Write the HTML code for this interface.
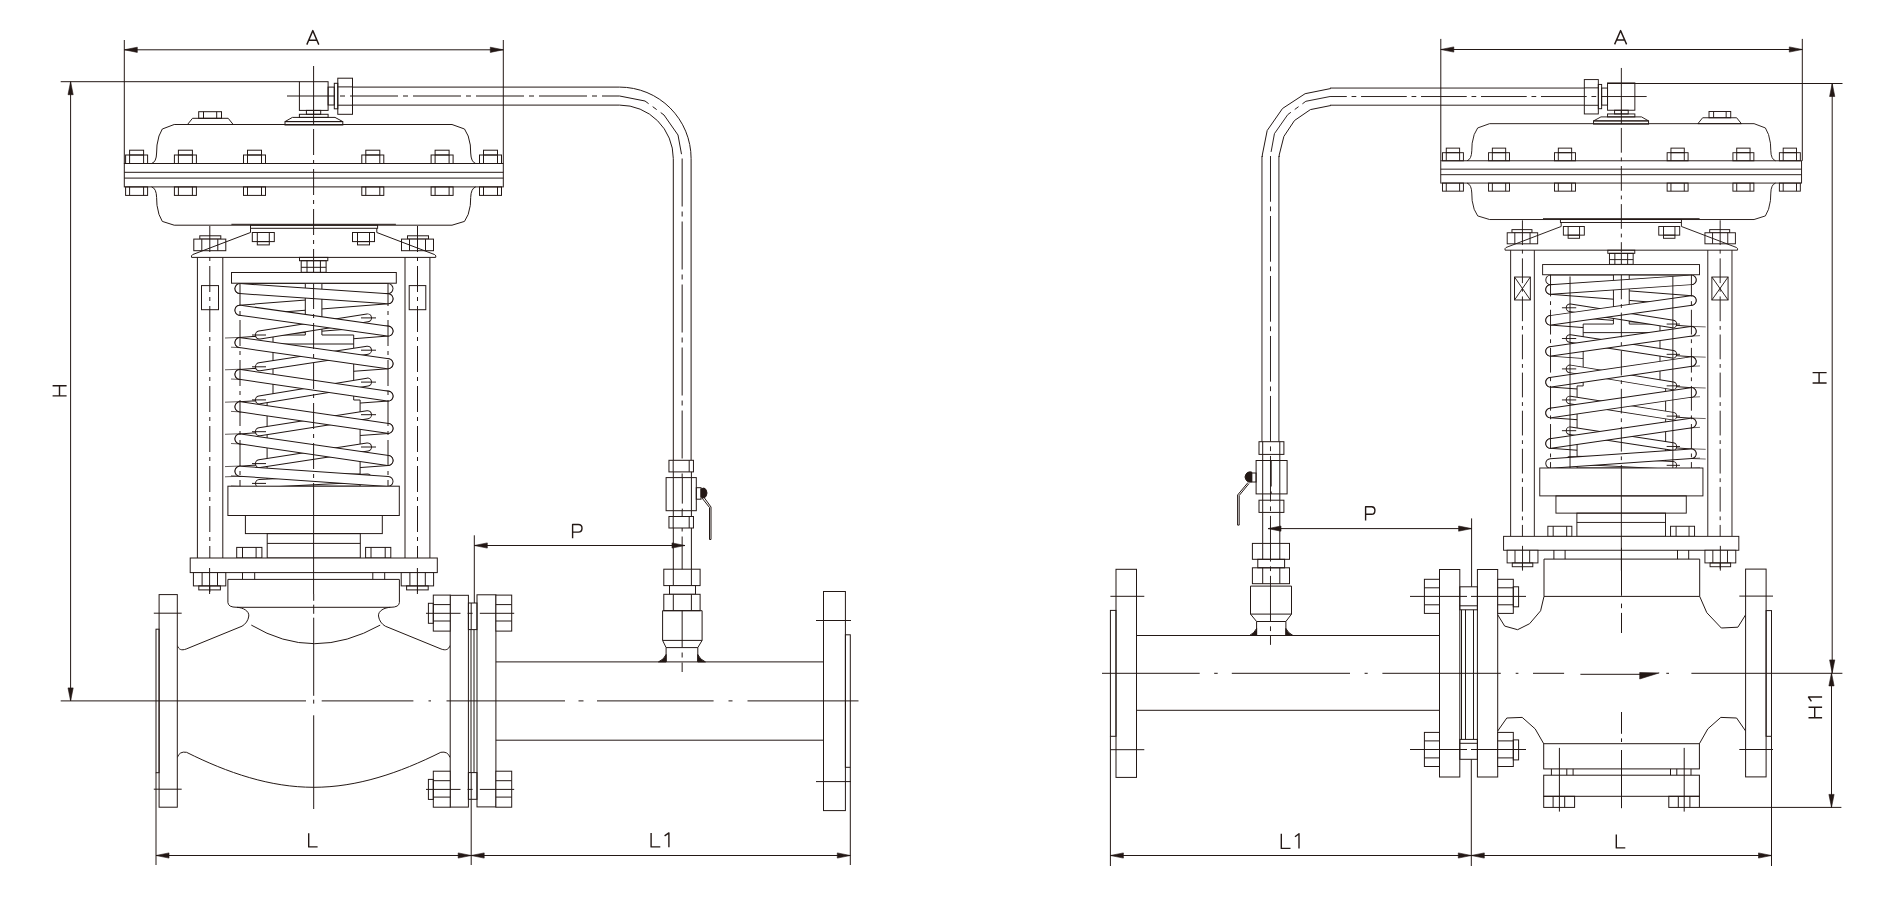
<!DOCTYPE html>
<html><head><meta charset="utf-8"><style>
html,body{margin:0;padding:0;background:#fff;}
svg{display:block;}
svg line, svg path, svg rect, svg polyline{stroke:#231815;stroke-width:1.0;fill:none;}
svg .ar{fill:#231815;stroke:#231815;stroke-width:0.6;}
svg .fl{fill:#231815;}
svg .thin{stroke-width:0.7;}
svg .tx{stroke-width:1.4;stroke-linejoin:round;}
svg .ch{stroke-dasharray:117 13 5 13;}
svg .cs{stroke-dasharray:26 5 4 5;}
svg .ct{stroke-dasharray:48 5 5 5;}
svg text{font-family:"Liberation Sans",sans-serif;fill:#231815;stroke:none;}
</style></head><body>
<svg width="1878" height="903" viewBox="0 0 1878 903">
<rect x="0" y="0" width="1878" height="903" style="fill:#fff;stroke:none"/>
<rect x="299.4" y="81.7" width="28.7" height="28.7"/>
<rect x="328.1" y="87.1" width="6.2" height="17.9"/>
<rect x="334.3" y="83.3" width="3.5" height="25.5"/>
<rect x="337.8" y="78.2" width="14.7" height="36.1"/>
<line x1="337.8" y1="86.9" x2="352.5" y2="86.9"/>
<line x1="337.8" y1="105.2" x2="352.5" y2="105.2"/>
<rect x="306.4" y="110.4" width="14.3" height="3.9"/>
<line x1="313.6" y1="110.4" x2="313.6" y2="114.3"/>
<rect x="299.4" y="114.3" width="28.7" height="3.1"/>
<path d="M292.4,117.4 L335,117.4 L342.8,121.6 L285,121.6 Z"/>
<rect x="285" y="121.6" width="57.8" height="3.4"/>
<line x1="352.5" y1="87.1" x2="619.6" y2="87.1"/>
<line x1="352.5" y1="105.1" x2="619.6" y2="105.1"/>
<path d="M619.6,87.1 A71.5,71.4 0 0 1 691.1,158.5"/>
<path d="M619.6,105.1 A53.7,53.4 0 0 1 673.3,158.5"/>
<path d="M287,96 L619.6,96 L645,101 L664,115 L678,135 L682.3,158.5" class="ct"/>
<line x1="673.3" y1="158.5" x2="673.3" y2="460.3"/>
<line x1="691.1" y1="158.5" x2="691.1" y2="460.3"/>
<line x1="682.15" y1="158.5" x2="682.15" y2="672" class="ct"/>
<rect x="668.95" y="460.3" width="24.5" height="11.6" style="fill:#fff"/>
<line x1="673.2" y1="460.3" x2="673.2" y2="471.9"/>
<line x1="689.2" y1="460.3" x2="689.2" y2="471.9"/>
<line x1="673.3" y1="471.9" x2="673.3" y2="477.6"/>
<line x1="691.4" y1="471.9" x2="691.4" y2="477.6"/>
<rect x="666.1" y="477.6" width="30.2" height="33.1" style="fill:#fff"/>
<line x1="673.3" y1="477.6" x2="673.3" y2="510.7"/>
<line x1="691.4" y1="477.6" x2="691.4" y2="510.7"/>
<line x1="682.3" y1="477.6" x2="682.3" y2="510.7" class="cs"/>
<rect x="696.3" y="487.7" width="4.7" height="11.5"/>
<path d="M701,489 Q706,486 707,493 Q706,500 701,497 Z" class="fl"/>
<path d="M703,496 L711,507 L711,539.5 L709.5,539.5 L709.5,507.5 L702,498"/>
<line x1="673.3" y1="510.7" x2="673.3" y2="516.5"/>
<line x1="691.4" y1="510.7" x2="691.4" y2="516.5"/>
<rect x="668.95" y="516.5" width="24.5" height="11.5" style="fill:#fff"/>
<line x1="673.2" y1="516.5" x2="673.2" y2="528"/>
<line x1="689.2" y1="516.5" x2="689.2" y2="528"/>
<line x1="673.3" y1="528" x2="673.3" y2="569.2"/>
<line x1="691.4" y1="528" x2="691.4" y2="569.2"/>
<rect x="663.8" y="569.2" width="36.3" height="16.4" style="fill:#fff"/>
<line x1="673.3" y1="569.2" x2="673.3" y2="585.6"/>
<line x1="691.4" y1="569.2" x2="691.4" y2="585.6"/>
<rect x="669.5" y="585.6" width="26" height="8.7" style="fill:#fff"/>
<rect x="663.8" y="594.3" width="36.3" height="16.4" style="fill:#fff"/>
<line x1="673.3" y1="594.3" x2="673.3" y2="610.7"/>
<line x1="691.4" y1="594.3" x2="691.4" y2="610.7"/>
<path d="M662.6,610.7 L702.1,610.7 L702.1,640.4 L697.8,647.6 L666.1,647.6 L662.6,640.4 Z"/>
<line x1="662.6" y1="640.4" x2="702.1" y2="640.4"/>
<line x1="666.1" y1="647.6" x2="666.1" y2="661.9"/>
<line x1="697.8" y1="647.6" x2="697.8" y2="661.9"/>
<path d="M658.5,661.9 Q664,659.5 666.1,654.5 L666.1,661.9 Z" class="fl"/>
<path d="M705.4,661.9 Q699.9,659.5 697.8,654.5 L697.8,661.9 Z" class="fl"/>
<path d="M187.5,124.5 L192.5,118.3 L228.2,118.3 L233.2,124.5 Z"/>
<rect x="198.7" y="111.7" width="22.8" height="6.6"/>
<line x1="203.5" y1="111.7" x2="203.5" y2="118.3"/>
<line x1="216.7" y1="111.7" x2="216.7" y2="118.3"/>
<path d="M151.6,163.5 Q156.4,162 156.6,153 L157,145 Q158.3,135 162.3,129 L174.2,124.5 L452,124.5 L464.5,129 Q469,135 470.3,145 L470.7,153 Q471,162 475.7,163.5"/>
<path d="M151.6,186.9 Q156.4,188.4 156.6,197.4 L157,205.4 Q158.3,215.4 162.3,221.4 L174.2,225.2 L452,225.2 L464.5,221.4 Q469,215.4 470.3,205.4 L470.7,197.4 Q471,188.4 475.7,186.9"/>
<line x1="231.4" y1="224.3" x2="395.9" y2="224.3"/>
<rect x="124.3" y="163.5" width="379" height="23.4"/>
<line x1="124.3" y1="172.3" x2="503.3" y2="172.3"/>
<line x1="124.3" y1="178.1" x2="503.3" y2="178.1"/>
<rect x="129.6" y="150.2" width="14" height="4.8"/>
<rect x="125.6" y="155" width="22" height="8.5"/>
<line x1="129.6" y1="155" x2="129.6" y2="163.5"/>
<line x1="143.6" y1="155" x2="143.6" y2="163.5"/>
<rect x="125.6" y="186.9" width="22" height="8.5"/>
<line x1="129.6" y1="186.9" x2="129.6" y2="195.4"/>
<line x1="143.6" y1="186.9" x2="143.6" y2="195.4"/>
<rect x="178.4" y="150.2" width="14" height="4.8"/>
<rect x="174.4" y="155" width="22" height="8.5"/>
<line x1="178.4" y1="155" x2="178.4" y2="163.5"/>
<line x1="192.4" y1="155" x2="192.4" y2="163.5"/>
<rect x="174.4" y="186.9" width="22" height="8.5"/>
<line x1="178.4" y1="186.9" x2="178.4" y2="195.4"/>
<line x1="192.4" y1="186.9" x2="192.4" y2="195.4"/>
<rect x="247.5" y="150.2" width="14" height="4.8"/>
<rect x="243.5" y="155" width="22" height="8.5"/>
<line x1="247.5" y1="155" x2="247.5" y2="163.5"/>
<line x1="261.5" y1="155" x2="261.5" y2="163.5"/>
<rect x="243.5" y="186.9" width="22" height="8.5"/>
<line x1="247.5" y1="186.9" x2="247.5" y2="195.4"/>
<line x1="261.5" y1="186.9" x2="261.5" y2="195.4"/>
<rect x="365.8" y="150.2" width="14" height="4.8"/>
<rect x="361.8" y="155" width="22" height="8.5"/>
<line x1="365.8" y1="155" x2="365.8" y2="163.5"/>
<line x1="379.8" y1="155" x2="379.8" y2="163.5"/>
<rect x="361.8" y="186.9" width="22" height="8.5"/>
<line x1="365.8" y1="186.9" x2="365.8" y2="195.4"/>
<line x1="379.8" y1="186.9" x2="379.8" y2="195.4"/>
<rect x="435.1" y="150.2" width="14" height="4.8"/>
<rect x="431.1" y="155" width="22" height="8.5"/>
<line x1="435.1" y1="155" x2="435.1" y2="163.5"/>
<line x1="449.1" y1="155" x2="449.1" y2="163.5"/>
<rect x="431.1" y="186.9" width="22" height="8.5"/>
<line x1="435.1" y1="186.9" x2="435.1" y2="195.4"/>
<line x1="449.1" y1="186.9" x2="449.1" y2="195.4"/>
<rect x="483.5" y="150.2" width="14" height="4.8"/>
<rect x="479.5" y="155" width="22" height="8.5"/>
<line x1="483.5" y1="155" x2="483.5" y2="163.5"/>
<line x1="497.5" y1="155" x2="497.5" y2="163.5"/>
<rect x="479.5" y="186.9" width="22" height="8.5"/>
<line x1="483.5" y1="186.9" x2="483.5" y2="195.4"/>
<line x1="497.5" y1="186.9" x2="497.5" y2="195.4"/>
<rect x="250.5" y="225.2" width="127.1" height="3.1"/>
<rect x="199.8" y="235.8" width="21" height="3.3" style="fill:#fff"/>
<rect x="193.8" y="239.1" width="32" height="11.6" style="fill:#fff"/>
<line x1="201.8" y1="239.1" x2="201.8" y2="250.7"/>
<line x1="217.8" y1="239.1" x2="217.8" y2="250.7"/>
<rect x="407.5" y="235.8" width="21" height="3.3" style="fill:#fff"/>
<rect x="401.5" y="239.1" width="32" height="11.6" style="fill:#fff"/>
<line x1="409.5" y1="239.1" x2="409.5" y2="250.7"/>
<line x1="425.5" y1="239.1" x2="425.5" y2="250.7"/>
<path d="M250.5,228.3 L250.5,232.5 L192.6,254.6 Q190.8,255.8 191.6,257.4 L435.7,257.4 Q436.5,255.8 434.7,254.6 L376.8,232.5 L376.8,228.3"/>
<rect x="252.3" y="232.5" width="22" height="9.1" style="fill:#fff"/>
<line x1="257.3" y1="232.5" x2="257.3" y2="241.6"/>
<line x1="269.3" y1="232.5" x2="269.3" y2="241.6"/>
<rect x="257.3" y="241.6" width="12" height="3.3"/>
<rect x="352.5" y="232.5" width="22" height="9.1" style="fill:#fff"/>
<line x1="357.5" y1="232.5" x2="357.5" y2="241.6"/>
<line x1="369.5" y1="232.5" x2="369.5" y2="241.6"/>
<rect x="357.5" y="241.6" width="12" height="3.3"/>
<line x1="197.4" y1="257.4" x2="197.4" y2="558"/>
<line x1="222.8" y1="257.4" x2="222.8" y2="558"/>
<line x1="209.8" y1="226" x2="209.8" y2="592" class="cs"/>
<line x1="405" y1="257.4" x2="405" y2="558"/>
<line x1="429.9" y1="257.4" x2="429.9" y2="558"/>
<line x1="417.5" y1="226" x2="417.5" y2="592" class="cs"/>
<rect x="201.5" y="285.6" width="17" height="24.1"/>
<rect x="409.2" y="285.6" width="16.6" height="24.1"/>
<path d="M388,288.6 L240,288.6" style="stroke-width:11;stroke-linecap:round"/>
<path d="M388,288.6 L240,288.6" style="stroke:#fff;stroke-width:9;stroke-linecap:round"/>
<path d="M388,298.8 L240,310.2" style="stroke-width:11;stroke-linecap:round"/>
<path d="M388,298.8 L240,310.2" style="stroke:#fff;stroke-width:9;stroke-linecap:round"/>
<path d="M388,331.1 L240,342.6" style="stroke-width:11;stroke-linecap:round"/>
<path d="M388,331.1 L240,342.6" style="stroke:#fff;stroke-width:9;stroke-linecap:round"/>
<path d="M388,363.7 L240,374.4" style="stroke-width:11;stroke-linecap:round"/>
<path d="M388,363.7 L240,374.4" style="stroke:#fff;stroke-width:9;stroke-linecap:round"/>
<path d="M388,396.1 L240,406.8" style="stroke-width:11;stroke-linecap:round"/>
<path d="M388,396.1 L240,406.8" style="stroke:#fff;stroke-width:9;stroke-linecap:round"/>
<path d="M388,428.4 L240,438.9" style="stroke-width:11;stroke-linecap:round"/>
<path d="M388,428.4 L240,438.9" style="stroke:#fff;stroke-width:9;stroke-linecap:round"/>
<path d="M388,460.5 L240,471.2" style="stroke-width:11;stroke-linecap:round"/>
<path d="M388,460.5 L240,471.2" style="stroke:#fff;stroke-width:9;stroke-linecap:round"/>
<path d="M305.3,283.2 L305.3,335 L273,335 L273,400 L267.1,400 L267.1,486.2 L360.1,486.2 L360.1,400 L353.7,400 L353.7,335 L321.9,335 L321.9,283.2 Z" style="fill:#fff"/>
<line x1="273" y1="344" x2="353.7" y2="344"/>
<line x1="267.1" y1="474" x2="360.1" y2="474"/>
<path d="M259.5,335 L367.5,317.9" style="stroke-width:9;stroke-linecap:round"/>
<path d="M259.5,335 L367.5,317.9" style="stroke:#fff;stroke-width:7;stroke-linecap:round"/>
<path d="M259.5,366.8 L367.5,350.2" style="stroke-width:9;stroke-linecap:round"/>
<path d="M259.5,366.8 L367.5,350.2" style="stroke:#fff;stroke-width:7;stroke-linecap:round"/>
<path d="M259.5,399.9 L367.5,382.1" style="stroke-width:9;stroke-linecap:round"/>
<path d="M259.5,399.9 L367.5,382.1" style="stroke:#fff;stroke-width:7;stroke-linecap:round"/>
<path d="M259.5,431.7 L367.5,414.7" style="stroke-width:9;stroke-linecap:round"/>
<path d="M259.5,431.7 L367.5,414.7" style="stroke:#fff;stroke-width:7;stroke-linecap:round"/>
<path d="M259.5,463.6 L367.5,447" style="stroke-width:9;stroke-linecap:round"/>
<path d="M259.5,463.6 L367.5,447" style="stroke:#fff;stroke-width:7;stroke-linecap:round"/>
<path d="M259.5,483.4 L367.5,478" style="stroke-width:9;stroke-linecap:round"/>
<path d="M259.5,483.4 L367.5,478" style="stroke:#fff;stroke-width:7;stroke-linecap:round"/>
<line x1="252" y1="335" x2="266" y2="335"/>
<line x1="252" y1="366.8" x2="266" y2="366.8"/>
<line x1="252" y1="399.9" x2="266" y2="399.9"/>
<line x1="252" y1="431.7" x2="266" y2="431.7"/>
<line x1="252" y1="463.6" x2="266" y2="463.6"/>
<line x1="252" y1="483.4" x2="266" y2="483.4"/>
<line x1="361" y1="317.9" x2="376" y2="317.9"/>
<line x1="361" y1="350.2" x2="376" y2="350.2"/>
<line x1="361" y1="382.1" x2="376" y2="382.1"/>
<line x1="361" y1="414.7" x2="376" y2="414.7"/>
<line x1="361" y1="447" x2="376" y2="447"/>
<line x1="361" y1="478" x2="376" y2="478"/>
<path d="M225,338 L241,337.4" class="thin"/>
<path d="M231,347.2 L241,347.7" class="thin"/>
<path d="M225,369.8 L241,369.2" class="thin"/>
<path d="M231,379 L241,379.5" class="thin"/>
<path d="M225,402.2 L241,401.6" class="thin"/>
<path d="M231,411.4 L241,411.9" class="thin"/>
<path d="M225,434.3 L241,433.7" class="thin"/>
<path d="M231,443.5 L241,444" class="thin"/>
<path d="M225,466.6 L241,466" class="thin"/>
<path d="M231,475.8 L241,476.3" class="thin"/>
<path d="M225,476.8 L241,476.2" class="thin"/>
<path d="M231,486 L241,486.5" class="thin"/>
<path d="M240,288.6 L388,298.8" style="stroke-width:11;stroke-linecap:round"/>
<path d="M240,288.6 L388,298.8" style="stroke:#fff;stroke-width:9;stroke-linecap:round"/>
<path d="M240,310.2 L388,331.1" style="stroke-width:11;stroke-linecap:round"/>
<path d="M240,310.2 L388,331.1" style="stroke:#fff;stroke-width:9;stroke-linecap:round"/>
<path d="M240,342.6 L388,363.7" style="stroke-width:11;stroke-linecap:round"/>
<path d="M240,342.6 L388,363.7" style="stroke:#fff;stroke-width:9;stroke-linecap:round"/>
<path d="M240,374.4 L388,396.1" style="stroke-width:11;stroke-linecap:round"/>
<path d="M240,374.4 L388,396.1" style="stroke:#fff;stroke-width:9;stroke-linecap:round"/>
<path d="M240,406.8 L388,428.4" style="stroke-width:11;stroke-linecap:round"/>
<path d="M240,406.8 L388,428.4" style="stroke:#fff;stroke-width:9;stroke-linecap:round"/>
<path d="M240,438.9 L388,460.5" style="stroke-width:11;stroke-linecap:round"/>
<path d="M240,438.9 L388,460.5" style="stroke:#fff;stroke-width:9;stroke-linecap:round"/>
<path d="M240,471.2 L388,481.4" style="stroke-width:11;stroke-linecap:round"/>
<path d="M240,471.2 L388,481.4" style="stroke:#fff;stroke-width:9;stroke-linecap:round"/>
<line x1="240" y1="280" x2="240" y2="492" class="cs"/>
<line x1="388" y1="280" x2="388" y2="492" class="cs"/>
<line x1="313.6" y1="283" x2="313.6" y2="486" class="cs"/>
<rect x="299.5" y="257.4" width="28.3" height="3.3"/>
<rect x="301.2" y="260.7" width="24.9" height="11.6"/>
<line x1="307" y1="260.7" x2="307" y2="272.3"/>
<line x1="313.6" y1="260.7" x2="313.6" y2="272.3"/>
<line x1="320.4" y1="260.7" x2="320.4" y2="272.3"/>
<line x1="301.2" y1="267.3" x2="326.1" y2="267.3"/>
<rect x="231.5" y="272.5" width="164.8" height="10.7" style="fill:#fff"/>
<rect x="227.9" y="486.2" width="171.4" height="29.3" style="fill:#fff"/>
<rect x="245.4" y="515.5" width="136.9" height="18.1"/>
<rect x="267.2" y="533.6" width="93.1" height="24.4"/>
<line x1="267.2" y1="543.4" x2="360.3" y2="543.4"/>
<rect x="236.7" y="547.4" width="25.2" height="10.6"/>
<line x1="242.5" y1="547.4" x2="242.5" y2="558"/>
<line x1="256.1" y1="547.4" x2="256.1" y2="558"/>
<rect x="365.6" y="547.4" width="25.2" height="10.6"/>
<line x1="371" y1="547.4" x2="371" y2="558"/>
<line x1="385.2" y1="547.4" x2="385.2" y2="558"/>
<rect x="190.2" y="558" width="247.1" height="14.6" style="fill:#fff"/>
<line x1="227.9" y1="579.4" x2="399.3" y2="579.4"/>
<line x1="242.5" y1="572.6" x2="242.5" y2="579.4"/>
<line x1="254.7" y1="572.6" x2="254.7" y2="579.4"/>
<line x1="372.8" y1="572.6" x2="372.8" y2="579.4"/>
<line x1="384.7" y1="572.6" x2="384.7" y2="579.4"/>
<rect x="193.4" y="572.6" width="32.4" height="13.3" style="fill:#fff"/>
<line x1="202.1" y1="572.6" x2="202.1" y2="585.9"/>
<line x1="217.5" y1="572.6" x2="217.5" y2="585.9"/>
<rect x="198.8" y="585.9" width="21.6" height="4"/>
<line x1="209.6" y1="568" x2="209.6" y2="594"/>
<rect x="401.2" y="572.6" width="32.4" height="13.3" style="fill:#fff"/>
<line x1="409.9" y1="572.6" x2="409.9" y2="585.9"/>
<line x1="425.3" y1="572.6" x2="425.3" y2="585.9"/>
<rect x="406.6" y="585.9" width="21.6" height="4"/>
<line x1="417.4" y1="568" x2="417.4" y2="594"/>
<line x1="313.6" y1="66" x2="313.6" y2="125"/>
<line x1="313.6" y1="129" x2="313.6" y2="260" class="cs"/>
<line x1="313.6" y1="486" x2="313.6" y2="594"/>
<path d="M227.9,579.4 L227.9,602.5 Q228.2,607.3 236.7,607.3 L390.6,607.3 Q399.1,607.3 399.4,602.5 L399.4,579.4"/>
<path d="M236.7,607.3 C243,607.5 249.3,611 248.8,616 C248.3,620.5 245.5,624.2 242,626.2 L186.2,649 C181.5,650.8 178.6,649.5 177.3,645.5"/>
<path d="M390.6,607.3 C384.3,607.5 378,611 378.5,616 C379,620.5 381.8,624.2 385.3,626.2 L441.1,649 C445.8,650.8 448.7,649.5 450.1,645.5"/>
<path d="M251.3,625.1 Q313.7,662.3 380.2,625.1"/>
<path d="M177.3,757.5 Q179.5,751 186.5,752.3 C228,773 270,787.3 313.65,787.3 C357.3,787.3 399.3,773 440.8,752.3 Q447.8,751 450.1,757.5"/>
<rect x="159.1" y="594.6" width="18.2" height="212.6" style="fill:#fff"/>
<rect x="156" y="629.2" width="3.1" height="143.5"/>
<line x1="153.8" y1="613.2" x2="181.7" y2="613.2"/>
<line x1="153.8" y1="789.2" x2="181.7" y2="789.2"/>
<rect x="450.2" y="595.3" width="18.2" height="211.8" style="fill:#fff"/>
<rect x="477" y="594.8" width="18.9" height="212.1" style="fill:#fff"/>
<rect x="468.4" y="603" width="8.6" height="26.6"/>
<line x1="471.2" y1="603" x2="471.2" y2="629.6"/>
<rect x="468.4" y="772.6" width="8.6" height="26.7"/>
<line x1="471.2" y1="772.6" x2="471.2" y2="799.3"/>
<line x1="471" y1="629.6" x2="471" y2="772.6"/>
<line x1="474" y1="629.6" x2="474" y2="772.6"/>
<rect x="433.3" y="595.1" width="16.9" height="36" style="fill:#fff"/>
<line x1="433.3" y1="604.6" x2="450.2" y2="604.6"/>
<line x1="433.3" y1="621" x2="450.2" y2="621"/>
<rect x="428.4" y="603.3" width="4.9" height="20"/>
<rect x="495.9" y="595.1" width="15.8" height="36" style="fill:#fff"/>
<line x1="495.9" y1="604.6" x2="511.7" y2="604.6"/>
<line x1="495.9" y1="621" x2="511.7" y2="621"/>
<line x1="426" y1="613.3" x2="460.5" y2="613.3"/>
<line x1="467.6" y1="613.3" x2="472.6" y2="613.3"/>
<line x1="479.8" y1="613.3" x2="514.2" y2="613.3"/>
<rect x="433.3" y="771.2" width="16.9" height="36" style="fill:#fff"/>
<line x1="433.3" y1="780.7" x2="450.2" y2="780.7"/>
<line x1="433.3" y1="797.1" x2="450.2" y2="797.1"/>
<rect x="428.4" y="779.4" width="4.9" height="20"/>
<rect x="495.9" y="771.2" width="15.8" height="36" style="fill:#fff"/>
<line x1="495.9" y1="780.7" x2="511.7" y2="780.7"/>
<line x1="495.9" y1="797.1" x2="511.7" y2="797.1"/>
<line x1="426" y1="789.4" x2="460.5" y2="789.4"/>
<line x1="467.6" y1="789.4" x2="472.6" y2="789.4"/>
<line x1="479.8" y1="789.4" x2="514.2" y2="789.4"/>
<line x1="495.9" y1="661.9" x2="823.5" y2="661.9"/>
<line x1="495.9" y1="740.2" x2="823.5" y2="740.2"/>
<rect x="823.5" y="591.5" width="21.9" height="219.1"/>
<rect x="845.4" y="634.8" width="4.9" height="132.5"/>
<line x1="816" y1="620.5" x2="851" y2="620.5"/>
<line x1="816" y1="781.6" x2="851" y2="781.6"/>
<line x1="60.7" y1="700.9" x2="306" y2="700.9"/>
<line x1="321.7" y1="700.9" x2="413.4" y2="700.9"/>
<line x1="428.5" y1="700.9" x2="431" y2="700.9"/>
<line x1="446.5" y1="700.9" x2="565" y2="700.9"/>
<line x1="578.5" y1="700.9" x2="583.5" y2="700.9"/>
<line x1="597" y1="700.9" x2="713.6" y2="700.9"/>
<line x1="728.5" y1="700.9" x2="732.5" y2="700.9"/>
<line x1="747.5" y1="700.9" x2="858.5" y2="700.9"/>
<line x1="313.7" y1="594" x2="313.7" y2="600.8"/>
<line x1="313.7" y1="604.7" x2="313.7" y2="613.8"/>
<line x1="313.7" y1="617.7" x2="313.7" y2="695.8"/>
<line x1="313.7" y1="699.7" x2="313.7" y2="703.6"/>
<line x1="313.7" y1="715.3" x2="313.7" y2="809"/>
<line x1="124.3" y1="40" x2="124.3" y2="163.5"/>
<line x1="503.3" y1="40" x2="503.3" y2="163.5"/>
<line x1="124.3" y1="49.8" x2="503.3" y2="49.8"/>
<polygon class="ar" points="124.3,49.8 137.3,47.2 137.3,52.4"/>
<polygon class="ar" points="503.3,49.8 490.3,47.2 490.3,52.4"/>
<line x1="60.7" y1="81.7" x2="299.4" y2="81.7"/>
<line x1="70.6" y1="81.7" x2="70.6" y2="700.9"/>
<polygon class="ar" points="70.6,81.7 68,94.7 73.2,94.7"/>
<polygon class="ar" points="70.6,700.9 68,687.9 73.2,687.9"/>
<line x1="156" y1="772.7" x2="156" y2="865"/>
<line x1="850.3" y1="767.3" x2="850.3" y2="865"/>
<line x1="471.2" y1="799.3" x2="471.2" y2="865"/>
<line x1="474.3" y1="535.3" x2="474.3" y2="603"/>
<line x1="156" y1="855.5" x2="850.3" y2="855.5"/>
<polygon class="ar" points="156,855.5 169,852.9 169,858.1"/>
<polygon class="ar" points="471.2,855.5 458.2,852.9 458.2,858.1"/>
<polygon class="ar" points="471.2,855.5 484.2,852.9 484.2,858.1"/>
<polygon class="ar" points="850.3,855.5 837.3,852.9 837.3,858.1"/>
<line x1="474.3" y1="545.5" x2="685" y2="545.5"/>
<polygon class="ar" points="474.3,545.5 487.3,542.9 487.3,548.1"/>
<polygon class="ar" points="685,545.5 672,542.9 672,548.1"/>
<g transform="translate(1621.3,107) scale(-0.952,0.952) translate(-313.65,-107)">
<rect x="299.4" y="81.7" width="28.7" height="28.7"/>
<rect x="328.1" y="87.1" width="6.2" height="17.9"/>
<rect x="334.3" y="83.3" width="3.5" height="25.5"/>
<rect x="337.8" y="78.2" width="14.7" height="36.1"/>
<line x1="337.8" y1="86.9" x2="352.5" y2="86.9"/>
<line x1="337.8" y1="105.2" x2="352.5" y2="105.2"/>
<rect x="306.4" y="110.4" width="14.3" height="3.9"/>
<line x1="313.6" y1="110.4" x2="313.6" y2="114.3"/>
<rect x="299.4" y="114.3" width="28.7" height="3.1"/>
<path d="M292.4,117.4 L335,117.4 L342.8,121.6 L285,121.6 Z"/>
<rect x="285" y="121.6" width="57.8" height="3.4"/>
<line x1="352.5" y1="87.1" x2="619.6" y2="87.1"/>
<line x1="352.5" y1="105.1" x2="619.6" y2="105.1"/>
<path d="M287,96 L619.6,96 L645,101 L664,115 L678,135 L682.3,158.5" class="ct"/>
<line x1="673.3" y1="158.5" x2="673.3" y2="458.6"/>
<line x1="691.1" y1="158.5" x2="691.1" y2="458.6"/>
<line x1="682.15" y1="158.5" x2="682.15" y2="672" class="ct"/>
<path d="M187.5,124.5 L192.5,118.3 L228.2,118.3 L233.2,124.5 Z"/>
<rect x="198.7" y="111.7" width="22.8" height="6.6"/>
<line x1="203.5" y1="111.7" x2="203.5" y2="118.3"/>
<line x1="216.7" y1="111.7" x2="216.7" y2="118.3"/>
<path d="M151.6,163.5 Q156.4,162 156.6,153 L157,145 Q158.3,135 162.3,129 L174.2,124.5 L452,124.5 L464.5,129 Q469,135 470.3,145 L470.7,153 Q471,162 475.7,163.5"/>
<path d="M151.6,186.9 Q156.4,188.4 156.6,197.4 L157,205.4 Q158.3,215.4 162.3,221.4 L174.2,225.2 L452,225.2 L464.5,221.4 Q469,215.4 470.3,205.4 L470.7,197.4 Q471,188.4 475.7,186.9"/>
<line x1="231.4" y1="224.3" x2="395.9" y2="224.3"/>
<rect x="124.3" y="163.5" width="379" height="23.4"/>
<line x1="124.3" y1="172.3" x2="503.3" y2="172.3"/>
<line x1="124.3" y1="178.1" x2="503.3" y2="178.1"/>
<rect x="129.6" y="150.2" width="14" height="4.8"/>
<rect x="125.6" y="155" width="22" height="8.5"/>
<line x1="129.6" y1="155" x2="129.6" y2="163.5"/>
<line x1="143.6" y1="155" x2="143.6" y2="163.5"/>
<rect x="125.6" y="186.9" width="22" height="8.5"/>
<line x1="129.6" y1="186.9" x2="129.6" y2="195.4"/>
<line x1="143.6" y1="186.9" x2="143.6" y2="195.4"/>
<rect x="178.4" y="150.2" width="14" height="4.8"/>
<rect x="174.4" y="155" width="22" height="8.5"/>
<line x1="178.4" y1="155" x2="178.4" y2="163.5"/>
<line x1="192.4" y1="155" x2="192.4" y2="163.5"/>
<rect x="174.4" y="186.9" width="22" height="8.5"/>
<line x1="178.4" y1="186.9" x2="178.4" y2="195.4"/>
<line x1="192.4" y1="186.9" x2="192.4" y2="195.4"/>
<rect x="247.5" y="150.2" width="14" height="4.8"/>
<rect x="243.5" y="155" width="22" height="8.5"/>
<line x1="247.5" y1="155" x2="247.5" y2="163.5"/>
<line x1="261.5" y1="155" x2="261.5" y2="163.5"/>
<rect x="243.5" y="186.9" width="22" height="8.5"/>
<line x1="247.5" y1="186.9" x2="247.5" y2="195.4"/>
<line x1="261.5" y1="186.9" x2="261.5" y2="195.4"/>
<rect x="365.8" y="150.2" width="14" height="4.8"/>
<rect x="361.8" y="155" width="22" height="8.5"/>
<line x1="365.8" y1="155" x2="365.8" y2="163.5"/>
<line x1="379.8" y1="155" x2="379.8" y2="163.5"/>
<rect x="361.8" y="186.9" width="22" height="8.5"/>
<line x1="365.8" y1="186.9" x2="365.8" y2="195.4"/>
<line x1="379.8" y1="186.9" x2="379.8" y2="195.4"/>
<rect x="435.1" y="150.2" width="14" height="4.8"/>
<rect x="431.1" y="155" width="22" height="8.5"/>
<line x1="435.1" y1="155" x2="435.1" y2="163.5"/>
<line x1="449.1" y1="155" x2="449.1" y2="163.5"/>
<rect x="431.1" y="186.9" width="22" height="8.5"/>
<line x1="435.1" y1="186.9" x2="435.1" y2="195.4"/>
<line x1="449.1" y1="186.9" x2="449.1" y2="195.4"/>
<rect x="483.5" y="150.2" width="14" height="4.8"/>
<rect x="479.5" y="155" width="22" height="8.5"/>
<line x1="483.5" y1="155" x2="483.5" y2="163.5"/>
<line x1="497.5" y1="155" x2="497.5" y2="163.5"/>
<rect x="479.5" y="186.9" width="22" height="8.5"/>
<line x1="483.5" y1="186.9" x2="483.5" y2="195.4"/>
<line x1="497.5" y1="186.9" x2="497.5" y2="195.4"/>
<rect x="250.5" y="225.2" width="127.1" height="3.1"/>
<rect x="199.8" y="235.8" width="21" height="3.3" style="fill:#fff"/>
<rect x="193.8" y="239.1" width="32" height="11.6" style="fill:#fff"/>
<line x1="201.8" y1="239.1" x2="201.8" y2="250.7"/>
<line x1="217.8" y1="239.1" x2="217.8" y2="250.7"/>
<rect x="407.5" y="235.8" width="21" height="3.3" style="fill:#fff"/>
<rect x="401.5" y="239.1" width="32" height="11.6" style="fill:#fff"/>
<line x1="409.5" y1="239.1" x2="409.5" y2="250.7"/>
<line x1="425.5" y1="239.1" x2="425.5" y2="250.7"/>
<path d="M250.5,228.3 L250.5,232.5 L192.6,254.6 Q190.8,255.8 191.6,257.4 L435.7,257.4 Q436.5,255.8 434.7,254.6 L376.8,232.5 L376.8,228.3"/>
<rect x="252.3" y="232.5" width="22" height="9.1" style="fill:#fff"/>
<line x1="257.3" y1="232.5" x2="257.3" y2="241.6"/>
<line x1="269.3" y1="232.5" x2="269.3" y2="241.6"/>
<rect x="257.3" y="241.6" width="12" height="3.3"/>
<rect x="352.5" y="232.5" width="22" height="9.1" style="fill:#fff"/>
<line x1="357.5" y1="232.5" x2="357.5" y2="241.6"/>
<line x1="369.5" y1="232.5" x2="369.5" y2="241.6"/>
<rect x="357.5" y="241.6" width="12" height="3.3"/>
<line x1="197.4" y1="257.4" x2="197.4" y2="558"/>
<line x1="222.8" y1="257.4" x2="222.8" y2="558"/>
<line x1="209.8" y1="226" x2="209.8" y2="592" class="cs"/>
<line x1="405" y1="257.4" x2="405" y2="558"/>
<line x1="429.9" y1="257.4" x2="429.9" y2="558"/>
<line x1="417.5" y1="226" x2="417.5" y2="592" class="cs"/>
<rect x="201.5" y="285.6" width="17" height="24.1"/>
<rect x="409.2" y="285.6" width="16.6" height="24.1"/>
<path d="M201.5,285.6 L218.5,309.7 M218.5,285.6 L201.5,309.7 M409.2,285.6 L425.8,309.7 M425.8,285.6 L409.2,309.7"/>
<path d="M388,288.6 L240,288.6" style="stroke-width:11;stroke-linecap:round"/>
<path d="M388,288.6 L240,288.6" style="stroke:#fff;stroke-width:9;stroke-linecap:round"/>
<path d="M388,298.8 L240,310.2" style="stroke-width:11;stroke-linecap:round"/>
<path d="M388,298.8 L240,310.2" style="stroke:#fff;stroke-width:9;stroke-linecap:round"/>
<path d="M388,331.1 L240,342.6" style="stroke-width:11;stroke-linecap:round"/>
<path d="M388,331.1 L240,342.6" style="stroke:#fff;stroke-width:9;stroke-linecap:round"/>
<path d="M388,363.7 L240,374.4" style="stroke-width:11;stroke-linecap:round"/>
<path d="M388,363.7 L240,374.4" style="stroke:#fff;stroke-width:9;stroke-linecap:round"/>
<path d="M388,396.1 L240,406.8" style="stroke-width:11;stroke-linecap:round"/>
<path d="M388,396.1 L240,406.8" style="stroke:#fff;stroke-width:9;stroke-linecap:round"/>
<path d="M388,428.4 L240,438.9" style="stroke-width:11;stroke-linecap:round"/>
<path d="M388,428.4 L240,438.9" style="stroke:#fff;stroke-width:9;stroke-linecap:round"/>
<path d="M388,460.5 L240,471.2" style="stroke-width:11;stroke-linecap:round"/>
<path d="M388,460.5 L240,471.2" style="stroke:#fff;stroke-width:9;stroke-linecap:round"/>
<path d="M305.3,283.2 L305.3,335 L273,335 L273,400 L267.1,400 L267.1,486.2 L360.1,486.2 L360.1,400 L353.7,400 L353.7,335 L321.9,335 L321.9,283.2 Z" style="fill:#fff"/>
<line x1="273" y1="344" x2="353.7" y2="344"/>
<line x1="267.1" y1="474" x2="360.1" y2="474"/>
<path d="M259.5,335 L367.5,317.9" style="stroke-width:9;stroke-linecap:round"/>
<path d="M259.5,335 L367.5,317.9" style="stroke:#fff;stroke-width:7;stroke-linecap:round"/>
<path d="M259.5,366.8 L367.5,350.2" style="stroke-width:9;stroke-linecap:round"/>
<path d="M259.5,366.8 L367.5,350.2" style="stroke:#fff;stroke-width:7;stroke-linecap:round"/>
<path d="M259.5,399.9 L367.5,382.1" style="stroke-width:9;stroke-linecap:round"/>
<path d="M259.5,399.9 L367.5,382.1" style="stroke:#fff;stroke-width:7;stroke-linecap:round"/>
<path d="M259.5,431.7 L367.5,414.7" style="stroke-width:9;stroke-linecap:round"/>
<path d="M259.5,431.7 L367.5,414.7" style="stroke:#fff;stroke-width:7;stroke-linecap:round"/>
<path d="M259.5,463.6 L367.5,447" style="stroke-width:9;stroke-linecap:round"/>
<path d="M259.5,463.6 L367.5,447" style="stroke:#fff;stroke-width:7;stroke-linecap:round"/>
<path d="M259.5,483.4 L367.5,478" style="stroke-width:9;stroke-linecap:round"/>
<path d="M259.5,483.4 L367.5,478" style="stroke:#fff;stroke-width:7;stroke-linecap:round"/>
<line x1="252" y1="335" x2="266" y2="335"/>
<line x1="252" y1="366.8" x2="266" y2="366.8"/>
<line x1="252" y1="399.9" x2="266" y2="399.9"/>
<line x1="252" y1="431.7" x2="266" y2="431.7"/>
<line x1="252" y1="463.6" x2="266" y2="463.6"/>
<line x1="252" y1="483.4" x2="266" y2="483.4"/>
<line x1="361" y1="317.9" x2="376" y2="317.9"/>
<line x1="361" y1="350.2" x2="376" y2="350.2"/>
<line x1="361" y1="382.1" x2="376" y2="382.1"/>
<line x1="361" y1="414.7" x2="376" y2="414.7"/>
<line x1="361" y1="447" x2="376" y2="447"/>
<line x1="361" y1="478" x2="376" y2="478"/>
<path d="M225,338 L241,337.4" class="thin"/>
<path d="M231,347.2 L241,347.7" class="thin"/>
<path d="M225,369.8 L241,369.2" class="thin"/>
<path d="M231,379 L241,379.5" class="thin"/>
<path d="M225,402.2 L241,401.6" class="thin"/>
<path d="M231,411.4 L241,411.9" class="thin"/>
<path d="M225,434.3 L241,433.7" class="thin"/>
<path d="M231,443.5 L241,444" class="thin"/>
<path d="M225,466.6 L241,466" class="thin"/>
<path d="M231,475.8 L241,476.3" class="thin"/>
<path d="M225,476.8 L241,476.2" class="thin"/>
<path d="M231,486 L241,486.5" class="thin"/>
<path d="M240,288.6 L388,298.8" style="stroke-width:11;stroke-linecap:round"/>
<path d="M240,288.6 L388,298.8" style="stroke:#fff;stroke-width:9;stroke-linecap:round"/>
<path d="M240,310.2 L388,331.1" style="stroke-width:11;stroke-linecap:round"/>
<path d="M240,310.2 L388,331.1" style="stroke:#fff;stroke-width:9;stroke-linecap:round"/>
<path d="M240,342.6 L388,363.7" style="stroke-width:11;stroke-linecap:round"/>
<path d="M240,342.6 L388,363.7" style="stroke:#fff;stroke-width:9;stroke-linecap:round"/>
<path d="M240,374.4 L388,396.1" style="stroke-width:11;stroke-linecap:round"/>
<path d="M240,374.4 L388,396.1" style="stroke:#fff;stroke-width:9;stroke-linecap:round"/>
<path d="M240,406.8 L388,428.4" style="stroke-width:11;stroke-linecap:round"/>
<path d="M240,406.8 L388,428.4" style="stroke:#fff;stroke-width:9;stroke-linecap:round"/>
<path d="M240,438.9 L388,460.5" style="stroke-width:11;stroke-linecap:round"/>
<path d="M240,438.9 L388,460.5" style="stroke:#fff;stroke-width:9;stroke-linecap:round"/>
<path d="M240,471.2 L388,481.4" style="stroke-width:11;stroke-linecap:round"/>
<path d="M240,471.2 L388,481.4" style="stroke:#fff;stroke-width:9;stroke-linecap:round"/>
<line x1="240" y1="280" x2="240" y2="492" class="cs"/>
<line x1="388" y1="280" x2="388" y2="492" class="cs"/>
<line x1="259.5" y1="285" x2="259.5" y2="490"/>
<line x1="367.5" y1="285" x2="367.5" y2="490"/>
<line x1="313.6" y1="283" x2="313.6" y2="486" class="cs"/>
<rect x="299.5" y="257.4" width="28.3" height="3.3"/>
<rect x="301.2" y="260.7" width="24.9" height="11.6"/>
<line x1="307" y1="260.7" x2="307" y2="272.3"/>
<line x1="313.6" y1="260.7" x2="313.6" y2="272.3"/>
<line x1="320.4" y1="260.7" x2="320.4" y2="272.3"/>
<line x1="301.2" y1="267.3" x2="326.1" y2="267.3"/>
<rect x="231.5" y="272.5" width="164.8" height="10.7" style="fill:#fff"/>
<rect x="227.9" y="486.2" width="171.4" height="29.3" style="fill:#fff"/>
<rect x="245.4" y="515.5" width="136.9" height="18.1"/>
<rect x="267.2" y="533.6" width="93.1" height="24.4"/>
<line x1="267.2" y1="543.4" x2="360.3" y2="543.4"/>
<rect x="236.7" y="547.4" width="25.2" height="10.6"/>
<line x1="242.5" y1="547.4" x2="242.5" y2="558"/>
<line x1="256.1" y1="547.4" x2="256.1" y2="558"/>
<rect x="365.6" y="547.4" width="25.2" height="10.6"/>
<line x1="371" y1="547.4" x2="371" y2="558"/>
<line x1="385.2" y1="547.4" x2="385.2" y2="558"/>
<rect x="190.2" y="558" width="247.1" height="14.6" style="fill:#fff"/>
<rect x="193.4" y="572.6" width="32.4" height="13.3" style="fill:#fff"/>
<line x1="202.1" y1="572.6" x2="202.1" y2="585.9"/>
<line x1="217.5" y1="572.6" x2="217.5" y2="585.9"/>
<rect x="198.8" y="585.9" width="21.6" height="4"/>
<line x1="209.6" y1="568" x2="209.6" y2="594"/>
<rect x="401.2" y="572.6" width="32.4" height="13.3" style="fill:#fff"/>
<line x1="409.9" y1="572.6" x2="409.9" y2="585.9"/>
<line x1="425.3" y1="572.6" x2="425.3" y2="585.9"/>
<rect x="406.6" y="585.9" width="21.6" height="4"/>
<line x1="417.4" y1="568" x2="417.4" y2="594"/>
<line x1="313.6" y1="66" x2="313.6" y2="125"/>
<line x1="313.6" y1="129" x2="313.6" y2="260" class="cs"/>
<line x1="313.6" y1="486" x2="313.6" y2="594"/>
</g>
<path d="M1331,88.6 L1330.4,88.6 L1305.1,93.7 L1282.5,108.5 L1267.2,130.5 L1262.3,155 L1262.3,157"/>
<path d="M1331,105.6 L1330.4,105.6 L1310.4,109.6 L1294.5,120.5 L1283.9,136.4 L1279.2,155 L1279.2,157"/>
<rect x="1259" y="441.7" width="24.9" height="12.7"/>
<line x1="1262.7" y1="441.7" x2="1262.7" y2="454.4"/>
<line x1="1279.8" y1="441.7" x2="1279.8" y2="454.4"/>
<line x1="1262.7" y1="454.4" x2="1262.7" y2="460.5"/>
<line x1="1279.8" y1="454.4" x2="1279.8" y2="460.5"/>
<rect x="1256.1" y="460.5" width="31" height="33.4"/>
<line x1="1262.7" y1="460.5" x2="1262.7" y2="493.9"/>
<line x1="1279.8" y1="460.5" x2="1279.8" y2="493.9"/>
<line x1="1271.2" y1="460.5" x2="1271.2" y2="493.9" class="cs"/>
<rect x="1251.7" y="473" width="4.4" height="9"/>
<path d="M1251.7,472 Q1246,471 1245,477 Q1246,483 1251.7,482 Z" class="fl"/>
<path d="M1249,483.5 L1239.2,495.5 L1239.2,525.1 L1237.6,525.1 L1237.6,495 L1248,482.5"/>
<line x1="1262.7" y1="493.9" x2="1262.7" y2="500.2"/>
<line x1="1279.8" y1="493.9" x2="1279.8" y2="500.2"/>
<rect x="1259" y="500.2" width="24.9" height="12.2"/>
<line x1="1262.7" y1="500.2" x2="1262.7" y2="512.4"/>
<line x1="1279.8" y1="500.2" x2="1279.8" y2="512.4"/>
<line x1="1262.7" y1="512.4" x2="1262.7" y2="543.4"/>
<line x1="1279.8" y1="512.4" x2="1279.8" y2="543.4"/>
<rect x="1252.4" y="543.4" width="37.1" height="15.9"/>
<line x1="1262.7" y1="543.4" x2="1262.7" y2="559.3"/>
<line x1="1279.8" y1="543.4" x2="1279.8" y2="559.3"/>
<rect x="1257.8" y="559.3" width="26.8" height="8.5"/>
<rect x="1252.4" y="567.8" width="37.1" height="15.9"/>
<line x1="1262.7" y1="567.8" x2="1262.7" y2="583.7"/>
<line x1="1279.8" y1="567.8" x2="1279.8" y2="583.7"/>
<path d="M1250.5,586.1 L1291.5,586.1 L1291.5,614.1 L1285.9,621.5 L1256.6,621.5 L1250.5,614.1 Z"/>
<line x1="1250.5" y1="614.1" x2="1291.5" y2="614.1"/>
<line x1="1256.6" y1="621.5" x2="1256.6" y2="635.5"/>
<line x1="1285.9" y1="621.5" x2="1285.9" y2="635.5"/>
<path d="M1249.5,635.5 Q1254.5,633 1256.6,628.5 L1256.6,635.5 Z" class="fl"/>
<path d="M1293,635.5 Q1288,633 1285.9,628.5 L1285.9,635.5 Z" class="fl"/>
<rect x="1116" y="569.3" width="20.5" height="208.1" style="fill:#fff"/>
<rect x="1110.4" y="610.4" width="5.6" height="125.9"/>
<line x1="1110.4" y1="596.3" x2="1144.3" y2="596.3"/>
<line x1="1110.4" y1="749.7" x2="1144.3" y2="749.7"/>
<line x1="1136.5" y1="635.5" x2="1439.5" y2="635.5"/>
<line x1="1136.5" y1="710.3" x2="1439.5" y2="710.3"/>
<rect x="1439.5" y="569.5" width="20.3" height="207.5" style="fill:#fff"/>
<rect x="1477.4" y="569.5" width="20.3" height="207.5" style="fill:#fff"/>
<rect x="1459.8" y="586.8" width="17.6" height="23"/>
<line x1="1459.8" y1="605.8" x2="1477.4" y2="605.8"/>
<rect x="1459.8" y="739.4" width="17.6" height="19.9"/>
<line x1="1459.8" y1="743.3" x2="1477.4" y2="743.3"/>
<line x1="1461.5" y1="609.8" x2="1461.5" y2="739.4"/>
<line x1="1465.5" y1="609.8" x2="1465.5" y2="739.4"/>
<line x1="1473.5" y1="609.8" x2="1473.5" y2="739.4"/>
<rect x="1424.4" y="579.3" width="15.1" height="34.1" style="fill:#fff"/>
<line x1="1424.4" y1="587.8" x2="1439.5" y2="587.8"/>
<line x1="1424.4" y1="604.8" x2="1439.5" y2="604.8"/>
<rect x="1497.7" y="579.3" width="15.6" height="34.1" style="fill:#fff"/>
<line x1="1497.7" y1="587.8" x2="1513.3" y2="587.8"/>
<line x1="1497.7" y1="604.8" x2="1513.3" y2="604.8"/>
<rect x="1513.3" y="586.8" width="5.3" height="20"/>
<line x1="1410" y1="596.4" x2="1467" y2="596.4"/>
<line x1="1471" y1="596.4" x2="1526" y2="596.4"/>
<rect x="1424.4" y="732.4" width="15.1" height="34.1" style="fill:#fff"/>
<line x1="1424.4" y1="740.9" x2="1439.5" y2="740.9"/>
<line x1="1424.4" y1="757.9" x2="1439.5" y2="757.9"/>
<rect x="1497.7" y="732.4" width="15.6" height="34.1" style="fill:#fff"/>
<line x1="1497.7" y1="740.9" x2="1513.3" y2="740.9"/>
<line x1="1497.7" y1="757.9" x2="1513.3" y2="757.9"/>
<rect x="1513.3" y="739.9" width="5.3" height="20"/>
<line x1="1410" y1="749.5" x2="1467" y2="749.5"/>
<line x1="1471" y1="749.5" x2="1526" y2="749.5"/>
<line x1="1544" y1="559.1" x2="1544" y2="596.4"/>
<line x1="1699.7" y1="559.1" x2="1699.7" y2="596.4"/>
<line x1="1544" y1="559.1" x2="1699.7" y2="559.1"/>
<line x1="1553.9" y1="550" x2="1553.9" y2="559.1"/>
<line x1="1565.1" y1="550" x2="1565.1" y2="559.1"/>
<line x1="1677.5" y1="550" x2="1677.5" y2="559.1"/>
<line x1="1688.7" y1="550" x2="1688.7" y2="559.1"/>
<line x1="1544" y1="596.4" x2="1699.7" y2="596.4"/>
<path d="M1544,596.4 L1540.6,610.8 L1529.6,623.7 L1517.6,629.7 L1504.7,626.1 L1497.7,614.8"/>
<path d="M1699.7,596.4 L1706.8,612.7 L1721.3,628 L1737.9,627.2 L1745.6,614.8"/>
<path d="M1497.7,731 L1506.8,718 L1522.2,717.4 L1535.2,728.9 L1543.7,743.7"/>
<path d="M1745.6,731 L1736.6,718 L1720.8,717.4 L1707.8,728.9 L1699.4,743.7"/>
<rect x="1543.7" y="743.7" width="155.7" height="25.2"/>
<line x1="1551.4" y1="768.9" x2="1551.4" y2="775.2"/>
<line x1="1566.8" y1="768.9" x2="1566.8" y2="775.2"/>
<line x1="1573.1" y1="768.9" x2="1573.1" y2="775.2"/>
<line x1="1670.5" y1="768.9" x2="1670.5" y2="775.2"/>
<line x1="1676.8" y1="768.9" x2="1676.8" y2="775.2"/>
<line x1="1691" y1="768.9" x2="1691" y2="775.2"/>
<rect x="1543.7" y="775.2" width="155.7" height="21.1"/>
<rect x="1543.7" y="796.3" width="30.9" height="11.1"/>
<line x1="1553.1" y1="796.3" x2="1553.1" y2="807.4"/>
<line x1="1564.7" y1="796.3" x2="1564.7" y2="807.4"/>
<rect x="1668.8" y="796.3" width="30.6" height="11.1"/>
<line x1="1678.3" y1="796.3" x2="1678.3" y2="807.4"/>
<line x1="1689.9" y1="796.3" x2="1689.9" y2="807.4"/>
<line x1="1559.4" y1="747.9" x2="1559.4" y2="811.6"/>
<line x1="1684.2" y1="747.9" x2="1684.2" y2="811.6"/>
<rect x="1745.6" y="569.1" width="20.5" height="207.8" style="fill:#fff"/>
<rect x="1766.1" y="610.6" width="5.4" height="125.7"/>
<line x1="1739.3" y1="596.1" x2="1773" y2="596.1"/>
<line x1="1739.3" y1="749.5" x2="1773" y2="749.5"/>
<line x1="1621.5" y1="547.8" x2="1621.5" y2="595.8"/>
<line x1="1621.5" y1="603.6" x2="1621.5" y2="608.2"/>
<line x1="1621.5" y1="612.9" x2="1621.5" y2="633"/>
<line x1="1621.5" y1="712" x2="1621.5" y2="733.8"/>
<line x1="1621.5" y1="738.4" x2="1621.5" y2="742"/>
<line x1="1621.5" y1="750" x2="1621.5" y2="808.2"/>
<line x1="1102" y1="673.3" x2="1199.7" y2="673.3"/>
<line x1="1214.2" y1="673.3" x2="1217.7" y2="673.3"/>
<line x1="1231.8" y1="673.3" x2="1350" y2="673.3"/>
<line x1="1364.6" y1="673.3" x2="1367.7" y2="673.3"/>
<line x1="1382.4" y1="673.3" x2="1500.8" y2="673.3"/>
<line x1="1515.7" y1="673.3" x2="1518.4" y2="673.3"/>
<line x1="1533" y1="673.3" x2="1564.1" y2="673.3"/>
<line x1="1666.3" y1="673.3" x2="1669" y2="673.3"/>
<line x1="1691.4" y1="673.3" x2="1842.4" y2="673.3"/>
<line x1="1580.4" y1="674.3" x2="1640" y2="674.3"/>
<polygon class="ar" points="1639.7,672.5 1659.2,672.9 1639.7,679"/>
<line x1="1440.8" y1="38.9" x2="1440.8" y2="160.8"/>
<line x1="1802.3" y1="38.9" x2="1802.3" y2="160.8"/>
<line x1="1440.8" y1="49.5" x2="1802.3" y2="49.5"/>
<polygon class="ar" points="1440.8,49.5 1453.8,46.9 1453.8,52.1"/>
<polygon class="ar" points="1802.3,49.5 1789.3,46.9 1789.3,52.1"/>
<line x1="1607.3" y1="83.5" x2="1842.5" y2="83.5"/>
<line x1="1832.2" y1="83.5" x2="1832.2" y2="672.9"/>
<polygon class="ar" points="1832.2,83.5 1829.6,96.5 1834.8,96.5"/>
<polygon class="ar" points="1832.2,672.9 1829.6,659.9 1834.8,659.9"/>
<line x1="1699.4" y1="807.4" x2="1841.4" y2="807.4"/>
<line x1="1831.5" y1="672.9" x2="1831.5" y2="807.4"/>
<polygon class="ar" points="1831.5,672.9 1828.9,685.9 1834.1,685.9"/>
<polygon class="ar" points="1831.5,807.4 1828.9,794.4 1834.1,794.4"/>
<line x1="1110.4" y1="736.3" x2="1110.4" y2="866"/>
<line x1="1471.3" y1="759.3" x2="1471.3" y2="866"/>
<line x1="1771.5" y1="736.3" x2="1771.5" y2="866"/>
<line x1="1471.6" y1="518.4" x2="1471.6" y2="586.8"/>
<line x1="1110.4" y1="855.5" x2="1771.5" y2="855.5"/>
<polygon class="ar" points="1110.4,855.5 1123.4,852.9 1123.4,858.1"/>
<polygon class="ar" points="1471.3,855.5 1458.3,852.9 1458.3,858.1"/>
<polygon class="ar" points="1471.3,855.5 1484.3,852.9 1484.3,858.1"/>
<polygon class="ar" points="1771.5,855.5 1758.5,852.9 1758.5,858.1"/>
<line x1="1268" y1="528.6" x2="1471.6" y2="528.6"/>
<polygon class="ar" points="1268,528.6 1281,526 1281,531.2"/>
<polygon class="ar" points="1471.6,528.6 1458.6,526 1458.6,531.2"/>
<path d="M306.8,44.6 L312.8,30.6 L318.8,44.6 M308.69,40.19 L316.91,40.19" class="tx"/>
<path d="M1614.6,44.4 L1620.6,30.6 L1626.6,44.4 M1616.49,40.05 L1624.71,40.05" class="tx"/>
<path d="M52.6,385.7 L66.6,385.7 M52.6,395.9 L66.6,395.9 M59.5,385.7 L59.5,395.9" class="tx"/>
<path d="M1812.6,372.6 L1826.6,372.6 M1812.6,383 L1826.6,383 M1819.1,372.6 L1819.1,383" class="tx"/>
<path d="M1808.5,707.3 L1822.1,707.3 M1808.5,717.7 L1822.1,717.7 M1814.7,707.3 L1814.7,717.7" class="tx"/>
<path d="M1811.4,701.4 L1808.5,697 L1822.1,697" class="tx"/>
<path d="M308.7,833.2 L308.7,846.9 L317.6,846.9" class="tx"/>
<path d="M1616.3,834.4 L1616.3,847.9 L1625.3,847.9" class="tx"/>
<path d="M651.1,832.9 L651.1,846.9 L660.3,846.9 M664.6,835.9 L668.9,832.9 L668.9,847.2" class="tx"/>
<path d="M1281.3,833.7 L1281.3,848.4 L1290.5,848.4 M1295,836.8 L1299,833.7 L1299,848.6" class="tx"/>
<path d="M572.6,538.3 L572.6,524.5 L578.3,524.5 Q582,524.5 582,528.3 Q582,532.1 578.3,532.1 L572.6,532.1" class="tx"/>
<path d="M1365.6,520.4 L1365.6,506.8 L1371.6,506.8 Q1374.9,506.8 1374.9,510.5 Q1374.9,514.3 1371.6,514.3 L1365.6,514.3" class="tx"/>
</svg>
</body></html>
